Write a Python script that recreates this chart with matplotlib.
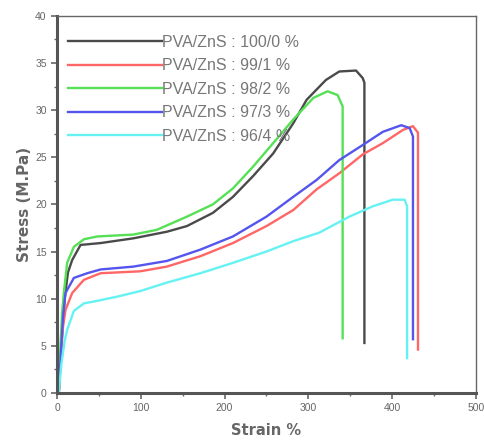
import matplotlib
matplotlib.use("Agg")
import matplotlib.pyplot as plt
from matplotlib.ticker import MultipleLocator

labels = [
    "PVA/ZnS : 100/0 %",
    "PVA/ZnS : 99/1 %",
    "PVA/ZnS : 98/2 %",
    "PVA/ZnS : 97/3 %",
    "PVA/ZnS : 96/4 %",
]
colors = ["#4a4a4a", "#ff6666", "#55e055", "#5555ee", "#66f2f2"]

strain_100 = [2, 5, 9, 13, 18, 28, 52, 91, 131, 155, 186, 210, 234, 258, 282, 298, 321, 337, 357, 365, 367, 367]
stress_100 = [0, 5, 10, 12.8, 14.1, 15.7, 15.9, 16.4, 17.1, 17.7, 19.1, 20.8, 23.0, 25.4, 28.6, 31.1, 33.2, 34.1, 34.2, 33.4, 32.9, 5.3]

strain_99 = [2, 5, 7, 10, 18, 32, 52, 99, 131, 171, 210, 250, 282, 310, 337, 365, 389, 413, 425, 431, 431]
stress_99 = [0, 4.5, 7, 8.8, 10.6, 12.0, 12.7, 12.9, 13.4, 14.5, 15.9, 17.7, 19.4, 21.6, 23.3, 25.3, 26.5, 27.9, 28.3, 27.6, 4.6]

strain_98 = [2, 4, 6, 8, 12, 20, 32, 48, 91, 119, 155, 186, 210, 234, 258, 282, 306, 323, 335, 341, 341]
stress_98 = [0, 5, 8.5, 10.6, 13.8, 15.5, 16.3, 16.6, 16.8, 17.3, 18.7, 20.0, 21.7, 24.0, 26.5, 29.0, 31.3, 32.0, 31.6, 30.4, 5.8]

strain_97 = [2, 5, 7, 10, 20, 36, 52, 91, 131, 171, 210, 250, 282, 310, 337, 365, 389, 411, 421, 425, 425]
stress_97 = [0, 5, 8, 10.6, 12.2, 12.7, 13.1, 13.4, 14.0, 15.2, 16.6, 18.7, 20.8, 22.6, 24.7, 26.3, 27.7, 28.4, 28.1, 27.2, 5.7]

strain_96 = [2, 5, 9, 12, 20, 32, 44, 71, 99, 131, 171, 210, 250, 282, 313, 349, 377, 401, 415, 418, 418]
stress_96 = [0, 3, 5.5, 6.7, 8.7, 9.5, 9.7, 10.2, 10.8, 11.7, 12.7, 13.8, 15.0, 16.1, 17.0, 18.7, 19.8, 20.5, 20.5, 19.8, 3.7]

strains = [strain_100, strain_99, strain_98, strain_97, strain_96]
stresses = [stress_100, stress_99, stress_98, stress_97, stress_96]

plt.rcParams["font.family"] = ["Liberation Sans", "DejaVu Sans"]

fig = plt.figure(figsize=(4.84, 4.41), dpi=100)
ax = fig.add_axes([0.118, 0.109, 0.865, 0.855])

for x, y, c, lab in zip(strains, stresses, colors, labels):
    ax.plot(x, y, color=c, linewidth=1.7, label=lab)

ax.set_xlim(0, 500)
ax.set_ylim(0, 40)
ax.xaxis.set_major_locator(MultipleLocator(100))
ax.xaxis.set_minor_locator(MultipleLocator(50))
ax.yaxis.set_major_locator(MultipleLocator(5))
ax.yaxis.set_minor_locator(MultipleLocator(2.5))
ax.tick_params(which="major", direction="out", length=4, width=1.2, colors="#666666", labelsize=7.5)
ax.tick_params(which="minor", direction="out", length=2.5, width=1.0, colors="#666666")

for side in ["left", "bottom"]:
    ax.spines[side].set_linewidth(2.2)
    ax.spines[side].set_color("#555555")
for side in ["top", "right"]:
    ax.spines[side].set_linewidth(1.0)
    ax.spines[side].set_color("#666666")

ax.set_xlabel("Strain %", fontsize=10.5, fontweight="bold", color="#666666", labelpad=7,
              family="DejaVu Sans")
ax.set_ylabel("Stress (M.Pa)", fontsize=11, fontweight="bold", color="#666666", labelpad=2,
              family="DejaVu Sans")

leg = ax.legend(
    loc="upper left",
    bbox_to_anchor=(0.026, 0.95),
    frameon=False,
    fontsize=11.5,
    handlelength=5.9,
    handletextpad=0.0,
    labelspacing=0.53,
    borderpad=0,
    borderaxespad=0,
)
for t in leg.get_texts():
    t.set_color("#777777")

fig.savefig("out.png", dpi=100)
